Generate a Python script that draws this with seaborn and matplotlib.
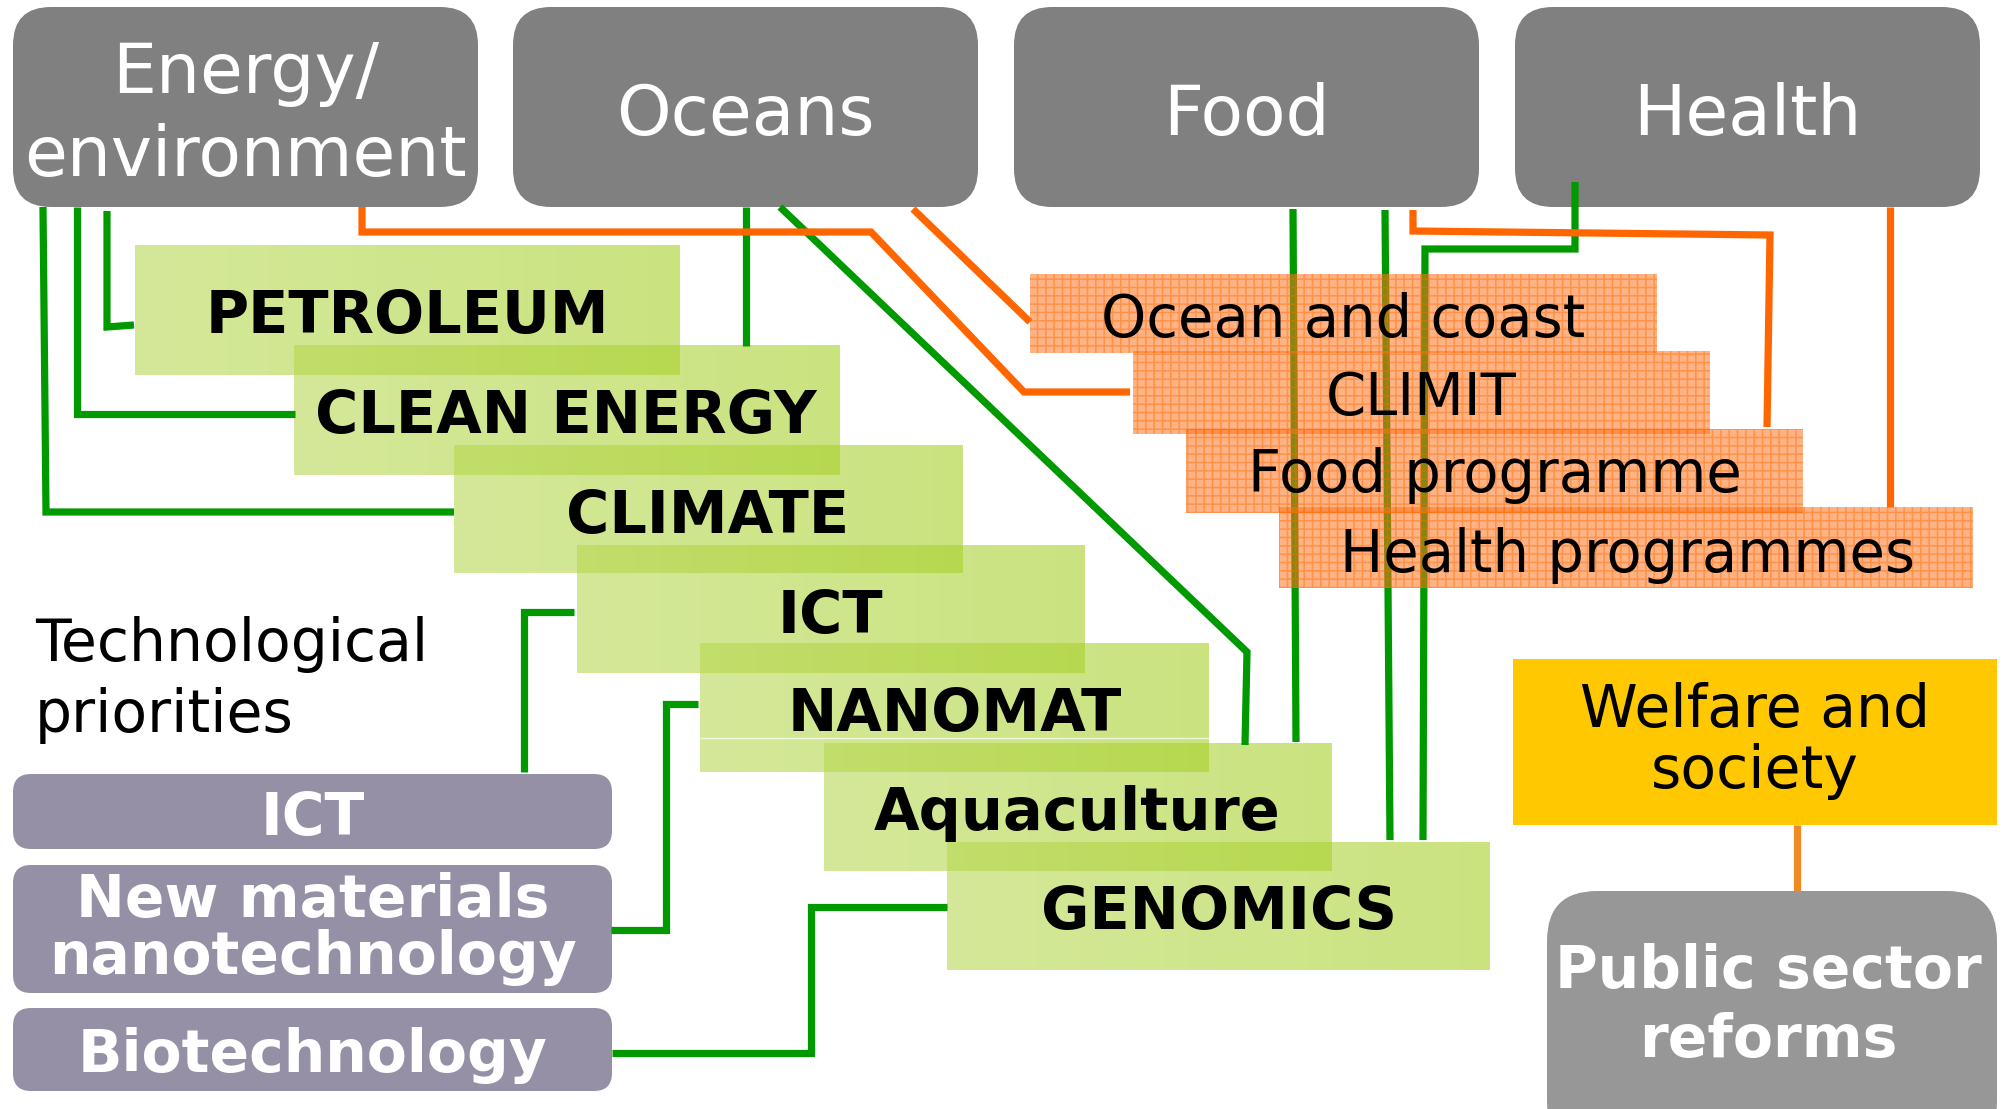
import numpy as np
import matplotlib
matplotlib.use("Agg")
import matplotlib.pyplot as plt
import seaborn as sns
from matplotlib.patches import FancyBboxPatch, Rectangle
from matplotlib.colors import LinearSegmentedColormap

sns.set_theme(style="white")
plt.rcParams['font.family'] = ['DejaVu Sans']
plt.rcParams['hatch.linewidth'] = 1.1

# labels
theme_labels = ["Energy/\nenvironment", "Oceans", "Food", "Health"]
programme_labels = ["PETROLEUM", "CLEAN ENERGY", "CLIMATE", "ICT",
                    "NANOMAT", "Aquaculture", "GENOMICS"]
orange_labels = ["Ocean and coast", "CLIMIT", "Food programme", "Health programmes"]
tech_labels = ["ICT", "New materials\nnanotechnology", "Biotechnology"]
tech_title = "Technological\npriorities"
welfare_label = "Welfare and\nsociety"
reform_label = "Public sector\nreforms"

# layout in pixel units of the 2006x1109 canvas (x0, y0, w, h)
theme_x0 = [13, 513, 1014, 1515]
theme_box = (465, 7, 200)  # width, top, height
prog_boxes = [(135, 245, 545, 130), (294, 345, 546, 130), (454, 445, 509, 128),
              (577, 545, 508, 128), (700, 643, 509, 129), (824, 743, 508, 128),
              (947, 842, 543, 128)]
prog_text = [(407, 317), (566, 417), (708, 517), (830, 616),
             (955, 715), (1077, 813), (1219, 913)]
orange_boxes = [(1030, 274, 627, 79), (1133, 351, 577, 83),
                (1186, 429, 617, 84), (1279, 507, 694, 81)]
orange_text = [(1343, 321), (1421, 398), (1495, 475), (1628, 555)]
tech_boxes = [(13, 774, 599, 75), (13, 865, 599, 128), (13, 1008, 599, 83)]
tech_text = [(313, 818), (313, 929), (313, 1056)]

green_links = [
    [(43, 207), (46, 512), (454, 512)],
    [(77, 207), (77, 414), (295, 414)],
    [(107, 211), (107, 327), (134, 325)],
    [(746, 207), (746, 346)],
    [(780, 207), (1247, 652), (1245, 745)],
    [(1293, 209), (1296, 742)],
    [(1385, 210), (1390, 840)],
    [(1575, 182), (1575, 249), (1425, 249), (1423, 840)],
    [(524, 772), (524, 612), (574, 612)],
    [(611, 930), (666, 930), (666, 704), (698, 704)],
    [(612, 1053), (811, 1053), (811, 907), (947, 907)],
]
orange_links = [
    [(362, 207), (362, 232), (871, 232), (1024, 392), (1130, 392)],
    [(913, 209), (1030, 322)],
    [(1413, 210), (1413, 231), (1770, 235), (1767, 427)],
    [(1890, 207), (1890, 507)],
]

fig = plt.figure(figsize=(20.06, 11.09), dpi=100)
ax = fig.add_axes([0, 0, 1, 1])

# top theme boxes
for x0, lab in zip(theme_x0, theme_labels):
    w, y0, h = theme_box
    ax.add_patch(FancyBboxPatch((x0, y0), w, h, boxstyle="round,pad=0,rounding_size=38",
                                fc="#808080", ec="none", zorder=1))
    ax.text(x0 + w / 2, y0 + h / 2 + 8, lab, color="white", fontsize=50,
            ha="center", va="center", linespacing=1.3, zorder=6)

# green programme boxes with a soft gradient
green_cmap = LinearSegmentedColormap.from_list("g", ["#b6d84f", "#a4cf22"])
grad = np.linspace(0, 1, 256).reshape(1, -1)
for (x0, y0, w, h), lab, (tx, ty) in zip(prog_boxes, programme_labels, prog_text):
    ax.imshow(grad, cmap=green_cmap, extent=(x0, x0 + w, y0 + h, y0), aspect="auto",
              alpha=0.58, interpolation="bilinear", zorder=1.5)
    ax.text(tx, ty, lab, color="black", fontsize=42.5, fontweight="bold",
            ha="center", va="center", zorder=6)
ax.plot([700, 1209], [738, 738], color="white", lw=1, alpha=0.7, zorder=1.6)

# connecting lines
for pts in green_links:
    xs, ys = zip(*pts)
    sns.lineplot(x=list(xs), y=list(ys), sort=False, estimator=None, ax=ax,
                 color="#009900", lw=5.2, zorder=2)
for pts in orange_links:
    xs, ys = zip(*pts)
    sns.lineplot(x=list(xs), y=list(ys), sort=False, estimator=None, ax=ax,
                 color="#FF6600", lw=5.2, zorder=2.2)
for line in ax.lines:
    line.set_solid_capstyle("butt")
    line.set_solid_joinstyle("miter")

# hatched orange programme boxes
for (x0, y0, w, h), lab, (tx, ty) in zip(orange_boxes, orange_labels, orange_text):
    ax.add_patch(Rectangle((x0, y0), w, h, fc=(1.0, 0.45, 0.12, 0.55), ec="none", zorder=3))
    ax.add_patch(Rectangle((x0, y0), w, h, fc="none", ec=(1.0, 0.42, 0.0, 0.45),
                           lw=0, hatch="++", zorder=3.1))
    ax.text(tx, ty, lab, color="black", fontsize=41.5, ha="center", va="center", zorder=6)

# technological priorities
ax.text(35, 680, tech_title, color="black", fontsize=42, ha="left", va="center",
        linespacing=1.3, zorder=6)
for (x0, y0, w, h), lab, (tx, ty) in zip(tech_boxes, tech_labels, tech_text):
    ax.add_patch(FancyBboxPatch((x0, y0), w, h, boxstyle="round,pad=0,rounding_size=18",
                                fc="#9590A6", ec="none", zorder=1))
    ax.text(tx, ty, lab, color="white", fontsize=42, fontweight="bold",
            ha="center", va="center", linespacing=1.0, zorder=6)

# welfare and public sector
ax.add_patch(Rectangle((1513, 659), 484, 166, fc="#FFC800", ec="none", zorder=1))
ax.text(1755, 741, welfare_label, color="black", fontsize=42, ha="center", va="center",
        linespacing=1.08, zorder=6)
ax.plot([1797, 1797], [825, 891], color="#F08A24", lw=5.2, zorder=2,
        solid_capstyle="butt")
ax.add_patch(FancyBboxPatch((1547, 891), 450, 260, boxstyle="round,pad=0,rounding_size=50",
                            fc="#979797", ec="none", zorder=1))
ax.text(1768, 1006, reform_label, color="white", fontsize=42, fontweight="bold",
        ha="center", va="center", linespacing=1.25, zorder=6)

ax.set_xlim(0, 2006)
ax.set_ylim(1109, 0)
ax.axis("off")
fig.savefig("out.png", dpi=100, facecolor="white")
